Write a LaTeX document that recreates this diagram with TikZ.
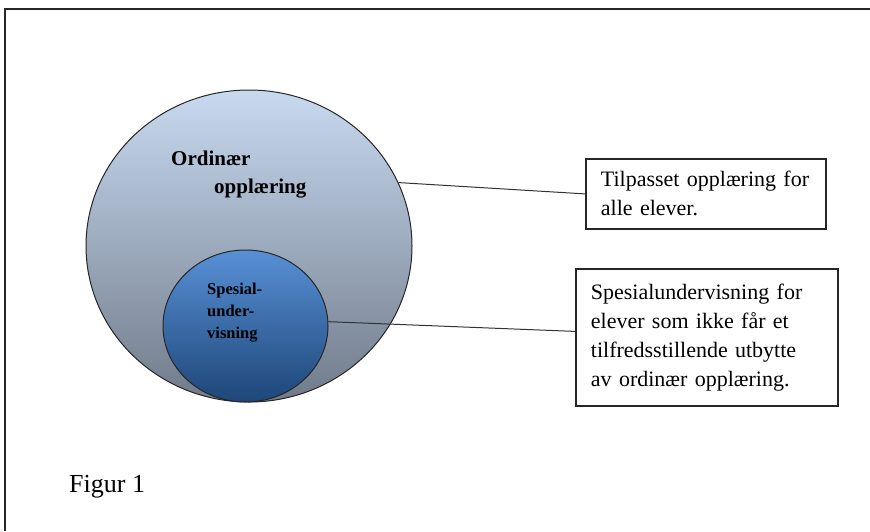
\documentclass[tikz,border=0pt]{standalone}
\usepackage{fontspec}
\setmainfont{Liberation Serif}
\usepackage{tikz}
\usetikzlibrary{shapes.geometric}

\definecolor{lysbla}{RGB}{200,218,240}
\definecolor{graabla}{RGB}{112,122,138}
\definecolor{mellombla}{RGB}{88,144,214}
\definecolor{morkbla}{RGB}{30,70,120}

\tikzset{
	sirkel/.style={shape=ellipse,draw=black!85,line width=1pt,inner sep=0pt},
	tekstboks/.style={shape=rectangle,draw=black!85,line width=1.8pt,inner xsep=15pt,inner ysep=0pt,
		align=left,font=\fontsize{22}{29}\selectfont,anchor=north west},
	forbindelse/.style={line width=1pt,draw=black!80}
}

\begin{document}
\begin{tikzpicture}[x=1pt,y=-1pt]
		\useasboundingbox (0,0) rectangle (870,531);
		\draw [line width=1.5pt,black!85] (5,531) -- (5,9) -- (870,9);
		\node (ordinaer) at (249,246) [sirkel,minimum width=326pt,minimum height=312pt,
			top color=lysbla,bottom color=graabla] {};
		\node (spesial) at (245.5,326) [sirkel,minimum width=165pt,minimum height=152pt,
			top color=mellombla,bottom color=morkbla] {};
		\node (ordtekst) at (171,165) [anchor=base west,inner sep=0pt,font=\bfseries\fontsize{21}{24}\selectfont] {Ordinær};
		\node (ordtekst2) at (214,193) [anchor=base west,inner sep=0pt,font=\bfseries\fontsize{21}{24}\selectfont] {opplæring};
		\node (spestekst) at (207,283) [anchor=north west,inner sep=0pt,align=left,
			font=\bfseries\fontsize{16.5}{22}\selectfont] {Spesial-\\under-\\visning};
		\node (tilpasset) at (585,158) [tekstboks,minimum height=70pt,text width=210pt] {Tilpasset opplæring for\\alle elever.};
		\node (spesboks) at (575,268) [tekstboks,minimum height=137pt,text width=232pt] {Spesialundervisning for\\elever som ikke får et\\tilfredsstillende utbytte\\av ordinær opplæring.};
		\node (figur) at (69,492) [anchor=base west,inner sep=0pt,font=\fontsize{26}{30}\selectfont] {Figur 1};
		\draw [forbindelse] (ordinaer.23) -- (tilpasset.west);
		\draw [forbindelse] (spesial.3) -- ([yshift=6pt]spesboks.west);
	\end{tikzpicture}
\end{document}
